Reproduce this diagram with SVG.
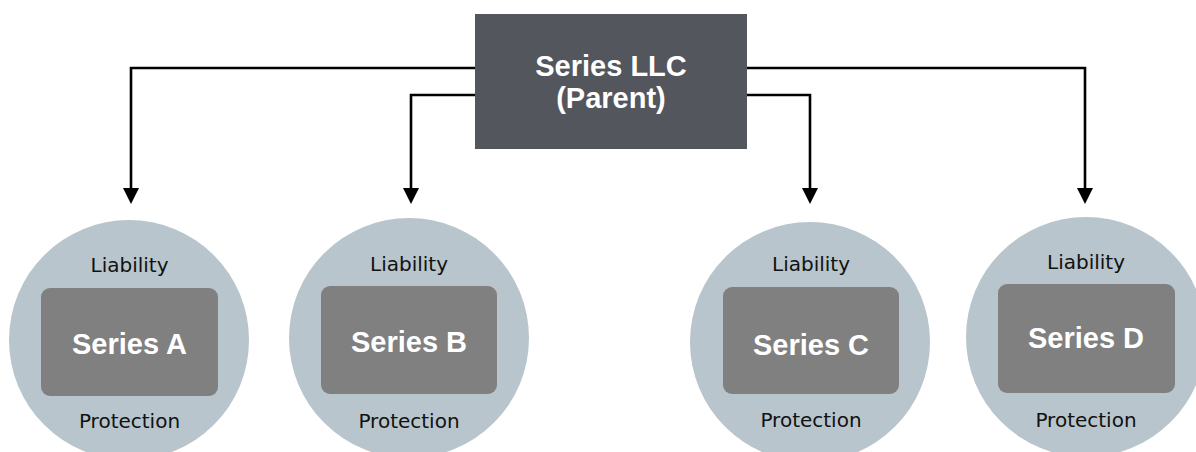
<svg xmlns="http://www.w3.org/2000/svg" width="1196" height="452" viewBox="0 0 1196 452">
<style>
.conn{fill:none;stroke:#000;stroke-width:2.6;}
.circ{fill:#b8c5cc;}
.inner{fill:#808080;}
.lbl{font-family:"DejaVu Sans",Verdana,sans-serif;font-size:20px;fill:#111;text-anchor:middle;}
.ser{font-family:"Liberation Sans",Arial,sans-serif;font-weight:bold;font-size:29px;fill:#fff;text-anchor:middle;}
.par{fill:#53565c;}
</style>
<defs>
<marker id="arr" markerUnits="userSpaceOnUse" markerWidth="16" markerHeight="16" refX="0" refY="8" orient="auto">
<path d="M0,0 L16,8 L0,16 Z" fill="#000"/>
</marker>
</defs>
<rect width="1196" height="452" fill="#fff"/>
<g id="connectors">
<path class="conn" d="M476,68 H131 V188" marker-end="url(#arr)"/>
<path class="conn" d="M476,95 H411 V188" marker-end="url(#arr)"/>
<path class="conn" d="M746,95 H810 V188" marker-end="url(#arr)"/>
<path class="conn" d="M746,68 H1085 V188" marker-end="url(#arr)"/>
</g>
<g id="parent">
<rect class="par" x="475" y="14" width="272" height="135"/>
<text class="ser" x="611" y="76">Series LLC</text>
<text class="ser" x="611" y="108">(Parent)</text>
</g>
<g id="seriesA">
<circle class="circ" cx="129" cy="340" r="120"/>
<rect class="inner" x="41" y="288" width="177" height="108" rx="9"/>
<text class="lbl" x="129.5" y="272">Liability</text>
<text class="ser" x="129.5" y="354">Series A</text>
<text class="lbl" x="129.5" y="428">Protection</text>
</g>
<g id="seriesB">
<circle class="circ" cx="409" cy="338" r="120"/>
<rect class="inner" x="321" y="286" width="176" height="108" rx="9"/>
<text class="lbl" x="409" y="271">Liability</text>
<text class="ser" x="409" y="352">Series B</text>
<text class="lbl" x="409" y="428">Protection</text>
</g>
<g id="seriesC">
<circle class="circ" cx="810" cy="342" r="120"/>
<rect class="inner" x="723" y="287" width="176" height="107" rx="9"/>
<text class="lbl" x="811" y="271">Liability</text>
<text class="ser" x="811" y="355">Series C</text>
<text class="lbl" x="811" y="427">Protection</text>
</g>
<g id="seriesD">
<circle class="circ" cx="1086" cy="337" r="120"/>
<rect class="inner" x="998" y="284" width="177" height="109" rx="9"/>
<text class="lbl" x="1086" y="269">Liability</text>
<text class="ser" x="1086" y="348">Series D</text>
<text class="lbl" x="1086" y="427">Protection</text>
</g>
</svg>
